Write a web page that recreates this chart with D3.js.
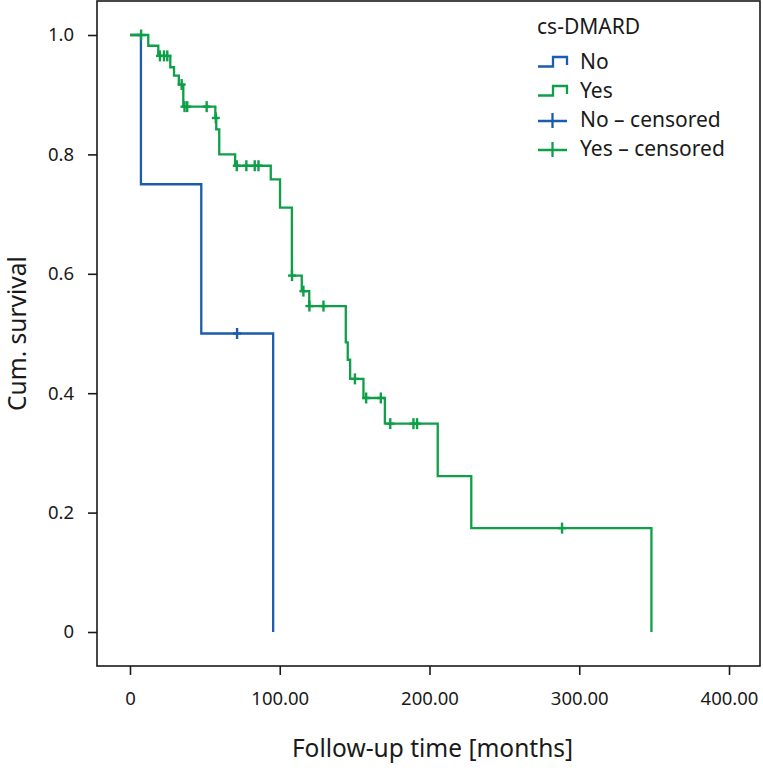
<!DOCTYPE html>
<html>
<head>
<meta charset="utf-8">
<script src="https://cdn.jsdelivr.net/npm/d3@7"></script>
<style>
  body { margin: 0; background: #fff; }
  svg text { font-family: "Noto Sans", "Open Sans", sans-serif; fill: #1a1a1a; }
</style>
</head>
<body>
<div id="chart"></div>
<script>
// Axis ticks
const xTicks = [0, 100, 200, 300, 400];
const xTickLabels = ['0', '100.00', '200.00', '300.00', '400.00'];
const yTicks = [0, 0.2, 0.4, 0.6, 0.8, 1.0];
const yTickLabels = ['0', '0.2', '0.4', '0.6', '0.8', '1.0'];

// cs-DMARD = No
const noEventTimes = [7.3, 47.6, 95.6];
const noSurvival = [0.75, 0.50, 0];
const noCensorTimes = [71.5];

// cs-DMARD = Yes
const yesEventTimes = [12.2, 18.9, 26.9, 29.4, 32.6, 35.6, 57.0, 57.6, 59.6, 70.2,
    94.0, 100.2, 108.1, 114.7, 119.7, 144.1, 145.4, 147.0, 155.9, 170.2,
    205.5, 227.9, 348.2];
const yesSurvival = [0.982, 0.965, 0.946, 0.932, 0.917, 0.880, 0.861, 0.842, 0.800, 0.781,
    0.758, 0.711, 0.597, 0.571, 0.546, 0.485, 0.456, 0.424, 0.392, 0.349,
    0.261, 0.174, 0];
const yesCensorTimes = [7.4, 20.0, 22.7, 24.9, 34.5, 36.4, 38.2, 51.2, 57.3,
    71.3, 77.7, 83.3, 85.8, 108.2, 115.8, 119.8, 129.2, 150.2, 157.7, 167.5,
    173.8, 189.3, 191.7, 288.5];

const legendLabels = ['No', 'Yes', 'No \u2013 censored', 'Yes \u2013 censored'];
const groupColors = { No: '#1b5cab', Yes: '#0e9f48' };

const W = 763, H = 774;
const frame = { left: 97, top: 1, right: 760, bottom: 666 };

const svg = d3.select('#chart').append('svg')
    .attr('width', W)
    .attr('height', H);

const x = d3.scaleLinear().domain([0, 400]).range([130, 729]);
const y = d3.scaleLinear().domain([0, 1]).range([632, 35]);

// frame
svg.append('rect')
    .attr('x', frame.left).attr('y', frame.top)
    .attr('width', frame.right - frame.left)
    .attr('height', frame.bottom - frame.top)
    .attr('fill', 'none')
    .attr('stroke', '#1a1a1a')
    .attr('stroke-width', 1.6);

// axes
const xAxis = d3.axisBottom(x)
    .tickValues(xTicks)
    .tickFormat((d, i) => xTickLabels[i])
    .tickSize(9)
    .tickPadding(17);
const gx = svg.append('g')
    .attr('transform', `translate(0,${frame.bottom})`)
    .call(xAxis);
gx.select('.domain').remove();

const yAxis = d3.axisLeft(y)
    .tickValues(yTicks)
    .tickFormat((d, i) => yTickLabels[i])
    .tickSize(9)
    .tickPadding(14);
const gy = svg.append('g')
    .attr('transform', `translate(${frame.left},0)`)
    .call(yAxis);
gy.select('.domain').remove();

[gx, gy].forEach(g => {
    g.selectAll('.tick line').attr('stroke', '#1a1a1a').attr('stroke-width', 1.6);
    g.selectAll('.tick text')
        .attr('font-size', 18.5)
        .attr('fill', '#1a1a1a');
});

// axis titles
svg.append('text')
    .attr('x', (frame.left + frame.right) / 2 + 4)
    .attr('y', 757)
    .attr('text-anchor', 'middle')
    .attr('font-size', 24.5)
    .text('Follow-up time [months]');

svg.append('text')
    .attr('transform', `translate(26,${(frame.top + frame.bottom) / 2}) rotate(-90)`)
    .attr('text-anchor', 'middle')
    .attr('font-size', 24.5)
    .text('Cum. survival');

// survival curves
function stepPoints(times, surv) {
    const pts = [[0, 1]];
    times.forEach((t, i) => pts.push([t, surv[i]]));
    return pts;
}

function survivalAt(times, surv, t) {
    let s = 1;
    times.forEach((tt, i) => { if (tt <= t) s = surv[i]; });
    return s;
}

const line = d3.line()
    .x(d => x(d[0]))
    .y(d => y(d[1]))
    .curve(d3.curveStepAfter);

const groups = [
    { key: 'No', times: noEventTimes, surv: noSurvival, censors: noCensorTimes },
    { key: 'Yes', times: yesEventTimes, surv: yesSurvival, censors: yesCensorTimes }
];

groups.forEach(g => {
    svg.append('path')
        .datum(stepPoints(g.times, g.surv))
        .attr('d', line)
        .attr('fill', 'none')
        .attr('stroke', groupColors[g.key])
        .attr('stroke-width', 2.3);

    const marks = svg.append('g').selectAll('g')
        .data(g.censors)
        .enter()
        .append('g')
        .attr('transform', d => `translate(${x(d)},${y(survivalAt(g.times, g.surv, d))})`);
    marks.append('line')
        .attr('x1', 0).attr('x2', 0).attr('y1', -5.5).attr('y2', 5.5)
        .attr('stroke', groupColors[g.key]).attr('stroke-width', 2.4);
    marks.append('line')
        .attr('x1', -4).attr('x2', 4).attr('y1', 0).attr('y2', 0)
        .attr('stroke', groupColors[g.key]).attr('stroke-width', 2.4);
});

// legend
const legend = svg.append('g').attr('transform', 'translate(537,0)');
legend.append('text')
    .attr('x', 0).attr('y', 34)
    .attr('font-size', 21)
    .text('cs-DMARD');

const rowY = [62, 91, 120, 149];
legendLabels.forEach((label, i) => {
    const color = i % 2 === 0 ? groupColors.No : groupColors.Yes;
    const cy = rowY[i];
    if (i < 2) {
        legend.append('path')
            .attr('d', `M1,${cy + 4.5}H16V${cy - 5}H30V${cy + 3}`)
            .attr('fill', 'none')
            .attr('stroke', color)
            .attr('stroke-width', 2.3);
    } else {
        legend.append('path')
            .attr('d', `M1,${cy + 1}H30M15.5,${cy - 7}V${cy + 8}`)
            .attr('fill', 'none')
            .attr('stroke', color)
            .attr('stroke-width', 2.3);
    }
    legend.append('text')
        .attr('x', 43)
        .attr('y', cy + 7)
        .attr('font-size', 21)
        .text(label);
});
</script>
</body>
</html>
